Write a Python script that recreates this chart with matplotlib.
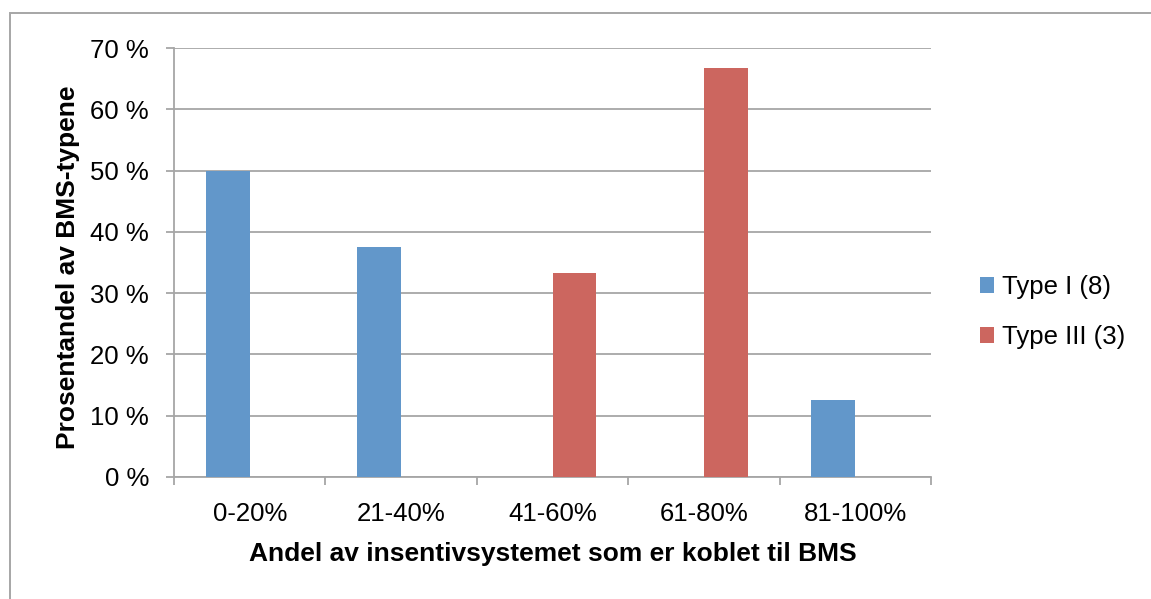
import matplotlib
matplotlib.use('Agg')
import matplotlib.pyplot as plt
from matplotlib.patches import Rectangle
import numpy as np

plt.rcParams['font.family'] = ['Liberation Sans', 'DejaVu Sans']

categories = ['0-20%', '21-40%', '41-60%', '61-80%', '81-100%']
type_1 = [50.0, 37.5, 0.0, 0.0, 12.5]      # Type I (8)
type_3 = [0.0, 0.0, 33.3, 66.7, 0.0]       # Type III (3)
series_labels = ['Type I (8)', 'Type III (3)']
y_ticks = [0, 10, 20, 30, 40, 50, 60, 70]

BLUE = '#6297CA'
RED = '#CC665F'
GRID = '#A6A6A6'

W, H = 1151, 599
fig = plt.figure(figsize=(W / 100, H / 100), dpi=100)

# plot area in pixels: left 174, right 931, top 48, bottom 477
ax = fig.add_axes([174 / W, 1 - 477 / H, (931 - 174) / W, (477 - 48) / H])

centers = np.arange(len(categories)) + 0.5
bw = 0.29
ax.bar(centers - bw / 2, type_1, bw, color=BLUE, label=series_labels[0], zorder=3)
ax.bar(centers + bw / 2, type_3, bw, color=RED, label=series_labels[1], zorder=3)

ax.set_xlim(0, len(categories))
ax.set_ylim(0, 70)
ax.set_yticks(y_ticks)
ax.set_yticklabels([f'{v} %' for v in y_ticks])
ax.yaxis.grid(True, color=GRID, linewidth=1.3, zorder=0)

ax.set_xticks(centers)
ax.set_xticklabels(categories)
ax.set_xticks(np.arange(len(categories) + 1), minor=True)
ax.tick_params(axis='x', which='major', length=0, pad=18, labelsize=18.5)
ax.tick_params(axis='x', which='minor', length=6, width=1.3, color=GRID, direction='out')
ax.tick_params(axis='y', length=6, width=1.3, color=GRID, pad=12, labelsize=18.5)

for side in ['top', 'right']:
    ax.spines[side].set_visible(False)
for side in ['left', 'bottom']:
    ax.spines[side].set_color(GRID)
    ax.spines[side].set_linewidth(1.3)

ax.set_xlabel('Andel av insentivsystemet som er koblet til BMS', fontsize=19, fontweight='bold')
ax.xaxis.set_label_coords(0.5, -0.152)
ax.set_ylabel('Prosentandel av BMS-typene', fontsize=19, fontweight='bold', va='center')
ax.yaxis.set_label_coords(-0.14, 0.49)

fig.legend(loc='center left', bbox_to_anchor=(980 / W, 1 - 312 / H), frameon=False,
           fontsize=18.5, handlelength=0.55, handleheight=0.55, handletextpad=0.3,
           labelspacing=1.02, borderpad=0, borderaxespad=0)

# chart border (only top and left are visible in the picture)
fig.patches.append(Rectangle((10 / W, -0.1), 1.2, 1.1 - 13.5 / H,
                             transform=fig.transFigure, fill=False,
                             edgecolor=GRID, linewidth=1.4))

fig.savefig('out.png', dpi=100)
plt.close()
